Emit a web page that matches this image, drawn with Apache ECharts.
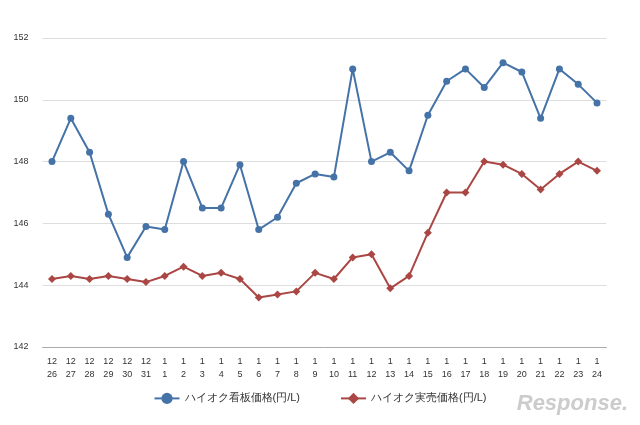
<!DOCTYPE html><html><head><meta charset="utf-8"><script src="https://cdn.jsdelivr.net/npm/echarts@6/dist/echarts.min.js"></script></head><body style="margin:0"><div id="c" style="width:640px;height:425px"></div><script>
const categories=['12\n26','12\n27','12\n28','12\n29','12\n30','12\n31','1\n1','1\n2','1\n3','1\n4','1\n5','1\n6','1\n7','1\n8','1\n9','1\n10','1\n11','1\n12','1\n13','1\n14','1\n15','1\n16','1\n17','1\n18','1\n19','1\n20','1\n21','1\n22','1\n23','1\n24'];
const signPrice=[148,149.4,148.3,146.3,144.9,145.9,145.8,148,146.5,146.5,147.9,145.8,146.2,147.3,147.6,147.5,151,148,148.3,147.7,149.5,150.6,151,150.4,151.2,150.9,149.4,151,150.5,149.9];
const realPrice=[144.2,144.3,144.2,144.3,144.2,144.1,144.3,144.6,144.3,144.4,144.2,143.6,143.7,143.8,144.4,144.2,144.9,145.0,143.9,144.3,145.7,147,147,148,147.9,147.6,147.1,147.6,148,147.7];
const ch=echarts.init(document.getElementById('c'));
ch.setOption({animation:false,
grid:{left:42.6,right:33.6,top:38,bottom:78},
legend:{bottom:16,left:'center',itemGap:40,textStyle:{fontSize:11,color:'#333'},data:['ハイオク看板価格(円/L)','ハイオク実売価格(円/L)']},
xAxis:{type:'category',data:categories,axisTick:{show:false},axisLine:{lineStyle:{color:'#aaa'}},axisLabel:{fontSize:9,color:'#333',lineHeight:13,interval:0}},
yAxis:{type:'value',min:142,max:152,interval:2,axisLabel:{fontSize:9,color:'#333',margin:14},splitLine:{lineStyle:{color:'#ddd'}}},
series:[{name:'ハイオク看板価格(円/L)',type:'line',data:signPrice,symbol:'circle',symbolSize:7,itemStyle:{color:'#4572a7'},lineStyle:{width:2}},
{name:'ハイオク実売価格(円/L)',type:'line',data:realPrice,symbol:'diamond',symbolSize:8,itemStyle:{color:'#aa4643'},lineStyle:{width:2}}],
graphic:[{type:'text',right:12,bottom:10,style:{text:'Response.',fontSize:22,fontStyle:'italic',fontWeight:'bold',fill:'#ccc'}}]
});
</script></body></html>
